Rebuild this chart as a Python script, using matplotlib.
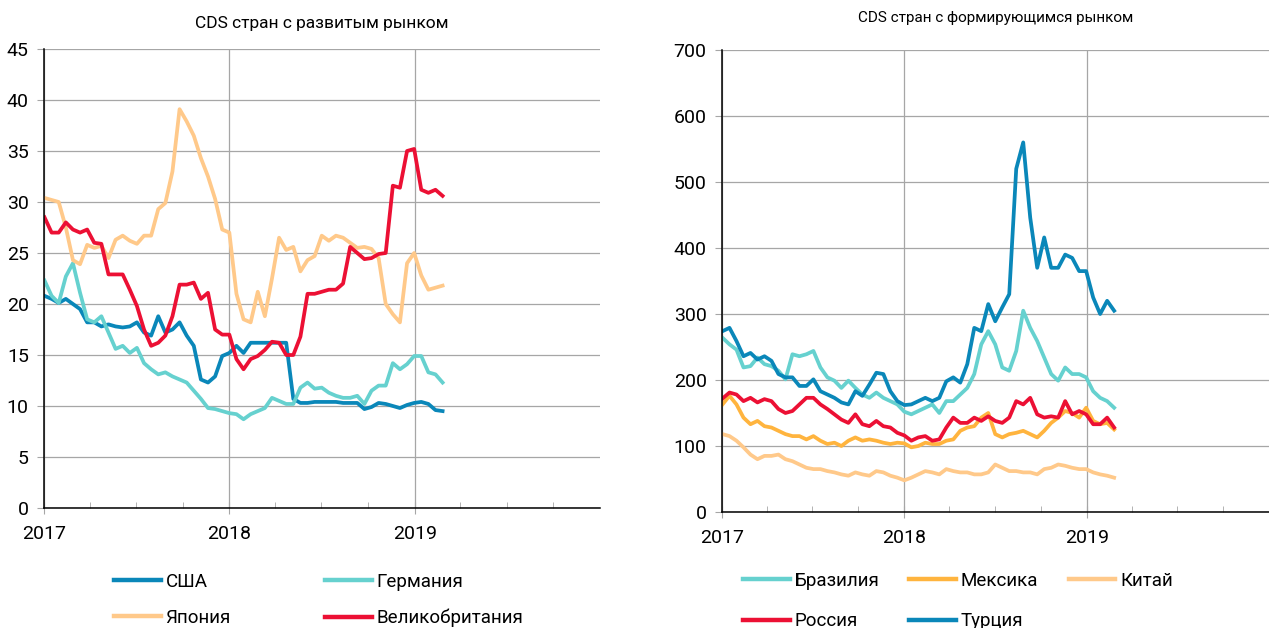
import numpy as np
import pandas as pd
import matplotlib
matplotlib.use('Agg')
import matplotlib.pyplot as plt
import matplotlib.dates as mdates

plt.rcParams['font.family'] = ['Roboto', 'DejaVu Sans']

# biweekly observation dates, Jan 2017 - Feb 2019
dates = pd.date_range('2017-01-02', periods=57, freq='14D')
year_ticks = pd.to_datetime(['2017-01-01', '2018-01-01', '2019-01-01'])

# developed markets CDS, bp
usa = [20.8, 20.5, 20.1, 20.5, 20.0, 19.5, 18.2, 18.2, 17.8, 18.0,
       17.8, 17.7, 17.8, 18.2, 17.2, 16.9, 18.8, 17.2, 17.5, 18.2,
       16.9, 15.9, 12.6, 12.3, 12.9, 14.9, 15.2, 15.9, 15.2, 16.2,
       16.2, 16.2, 16.2, 16.2, 16.2, 10.7, 10.3, 10.3, 10.4, 10.4,
       10.4, 10.4, 10.3, 10.3, 10.3, 9.7, 9.9, 10.3, 10.2, 10.0,
       9.8, 10.1, 10.3, 10.4, 10.2, 9.6, 9.5]
germany = [22.3, 20.8, 20.1, 22.7, 24.0, 21.1, 18.5, 18.2, 18.8, 17.2,
           15.6, 15.9, 15.2, 15.7, 14.2, 13.6, 13.1, 13.3, 12.9, 12.6,
           12.3, 11.5, 10.7, 9.8, 9.7, 9.5, 9.3, 9.2, 8.7, 9.2,
           9.5, 9.8, 10.8, 10.5, 10.2, 10.2, 11.8, 12.3, 11.7, 11.8,
           11.3, 11.0, 10.8, 10.8, 11.0, 10.2, 11.5, 12.0, 12.0, 14.2,
           13.6, 14.1, 14.9, 14.9, 13.3, 13.1, 12.3]
japan = [30.4, 30.2, 30.0, 27.5, 24.3, 23.9, 25.8, 25.5, 25.7, 24.5,
         26.3, 26.7, 26.2, 25.9, 26.7, 26.7, 29.3, 29.9, 33.0, 39.1,
         37.9, 36.5, 34.3, 32.5, 30.3, 27.3, 27.0, 21.0, 18.5, 18.2,
         21.2, 18.8, 22.5, 26.5, 25.3, 25.6, 23.2, 24.3, 24.7, 26.7,
         26.2, 26.7, 26.5, 26.0, 25.5, 25.6, 25.4, 24.5, 20.0, 19.0,
         18.2, 24.0, 25.0, 22.8, 21.4, 21.6, 21.8]
uk = [28.5, 27.0, 27.0, 28.0, 27.3, 27.0, 27.3, 26.0, 25.9, 22.9,
      22.9, 22.9, 21.4, 19.8, 17.5, 15.9, 16.2, 16.9, 18.8, 21.9,
      21.9, 22.1, 20.5, 21.1, 17.5, 17.0, 17.0, 14.6, 13.6, 14.6,
      14.9, 15.5, 16.3, 16.2, 15.0, 15.0, 16.8, 21.0, 21.0, 21.2,
      21.4, 21.4, 22.0, 25.6, 25.0, 24.4, 24.5, 24.9, 25.0, 31.6,
      31.4, 35.0, 35.2, 31.2, 30.9, 31.2, 30.6]

# emerging markets CDS, bp
brazil = [264, 254, 246, 219, 221, 234, 224, 221, 214, 201,
          239, 236, 239, 244, 219, 204, 199, 188, 199, 188,
          178, 173, 181, 173, 168, 163, 152, 148, 153, 158,
          163, 150, 168, 168, 178, 188, 209, 254, 274, 254,
          219, 214, 244, 305, 279, 259, 234, 209, 199, 219,
          209, 209, 204, 183, 173, 168, 158]
mexico = [163, 176, 163, 143, 133, 138, 130, 128, 123, 118,
          115, 115, 110, 115, 108, 103, 105, 100, 108, 113,
          108, 110, 108, 105, 103, 105, 104, 98, 100, 105,
          103, 103, 108, 110, 123, 128, 130, 143, 150, 118,
          113, 118, 120, 123, 118, 113, 123, 135, 143, 153,
          150, 143, 158, 138, 133, 135, 125]
china = [118, 115, 108, 98, 87, 80, 85, 85, 87, 80,
         77, 72, 67, 65, 65, 62, 60, 57, 55, 60,
         57, 55, 62, 60, 55, 52, 48, 52, 57, 62,
         60, 57, 65, 62, 60, 60, 57, 57, 60, 72,
         67, 62, 62, 60, 60, 57, 65, 67, 72, 70,
         67, 65, 65, 60, 57, 55, 52]
russia = [172, 181, 178, 168, 173, 166, 171, 168, 156, 150,
          153, 163, 173, 173, 163, 156, 148, 140, 135, 148,
          133, 130, 138, 130, 128, 120, 116, 108, 113, 115,
          108, 110, 128, 143, 135, 135, 143, 138, 145, 138,
          135, 143, 168, 163, 173, 148, 143, 145, 143, 168,
          148, 153, 148, 133, 133, 143, 128]
turkey = [274, 279, 259, 236, 241, 231, 236, 229, 209, 204,
          204, 191, 191, 201, 183, 178, 173, 166, 163, 183,
          176, 193, 211, 209, 183, 168, 162, 163, 168, 173,
          168, 173, 198, 204, 196, 224, 279, 274, 315, 289,
          310, 330, 520, 560, 446, 370, 416, 370, 370, 390,
          385, 365, 365, 325, 300, 320, 305]

blue = '#0A87B9'
turq = '#66D1CF'
lorange = '#FFC98A'
red = '#EC1034'
orange = '#FFB43E'

fig = plt.figure(figsize=(12.69, 6.28), dpi=100)
ax1 = fig.add_axes([44 / 1269, 1 - 508 / 628, 556 / 1269, 459 / 628])
ax2 = fig.add_axes([722 / 1269, 1 - 512 / 628, 547 / 1269, 462 / 628])

lw = 2.7
ax1.plot(dates, usa, color=blue, lw=lw, label='США')
ax1.plot(dates, germany, color=turq, lw=lw, label='Германия')
ax1.plot(dates, japan, color=lorange, lw=lw, label='Япония')
ax1.plot(dates, uk, color=red, lw=lw, label='Великобритания')

ax2.plot(dates, brazil, color=turq, lw=lw, label='Бразилия')
ax2.plot(dates, mexico, color=orange, lw=lw, label='Мексика')
ax2.plot(dates, china, color=lorange, lw=lw, label='Китай')
ax2.plot(dates, russia, color=red, lw=lw, label='Россия')
ax2.plot(dates, turkey, color=blue, lw=lw, label='Турция')

for ax, ymax, step in [(ax1, 45, 5), (ax2, 700, 100)]:
    ax.set_xlim(pd.Timestamp('2017-01-01'), pd.Timestamp('2020-01-01'))
    ax.set_ylim(0, ymax)
    ax.set_yticks(np.arange(0, ymax + 1, step))
    ax.set_xticks(year_ticks)
    ax.xaxis.set_major_formatter(mdates.DateFormatter('%Y'))
    ax.xaxis.set_minor_locator(mdates.MonthLocator(bymonth=[4, 7, 10]))
    ax.grid(True, axis='y', color='#A6A6A6', lw=0.9)
    ax.grid(True, axis='x', which='major', color='#A6A6A6', lw=0.9)
    ax.set_axisbelow(True)
    for s in ['top', 'right']:
        ax.spines[s].set_visible(False)
    ax.spines['left'].set_color('black')
    ax.spines['bottom'].set_color('black')
    ax.spines['left'].set_linewidth(1.1)
    ax.spines['bottom'].set_linewidth(1.1)
    ax.tick_params(axis='y', length=5, color='#A6A6A6', labelsize=14, pad=6)
    ax.tick_params(axis='x', which='major', direction='inout', length=8,
                   color='#A6A6A6', labelsize=14, pad=8)
    ax.tick_params(axis='x', which='minor', direction='in', length=4,
                   color='#A6A6A6')

ax1.set_title('CDS стран с развитым рынком', fontsize=12.5, pad=15)
ax2.set_title('CDS стран с формирующимся рынком', fontsize=11, pad=20)

h1, l1 = ax1.get_legend_handles_labels()
o1 = [0, 2, 1, 3]
leg1 = ax1.legend([h1[i] for i in o1], [l1[i] for i in o1], ncol=2,
                  loc='upper left', bbox_to_anchor=(114 / 1269, 1 - 573 / 628),
                  bbox_transform=fig.transFigure, frameon=False, fontsize=13.5,
                  handlelength=2.5, handletextpad=0.25, columnspacing=5.0,
                  labelspacing=0.95, borderaxespad=0, borderpad=0)
for line in leg1.get_lines():
    line.set_linewidth(3.2)

h2, l2 = ax2.get_legend_handles_labels()
o2 = [0, 3, 1, 4, 2]
leg2 = ax2.legend([h2[i] for i in o2], [l2[i] for i in o2], ncol=3,
                  loc='upper left', bbox_to_anchor=(743 / 1269, 1 - 572 / 628),
                  bbox_transform=fig.transFigure, frameon=False, fontsize=13.5,
                  handlelength=2.5, handletextpad=0.25, columnspacing=1.6,
                  labelspacing=1.2, borderaxespad=0, borderpad=0)
for line in leg2.get_lines():
    line.set_linewidth(3.2)

fig.savefig('out.png', dpi=100)
